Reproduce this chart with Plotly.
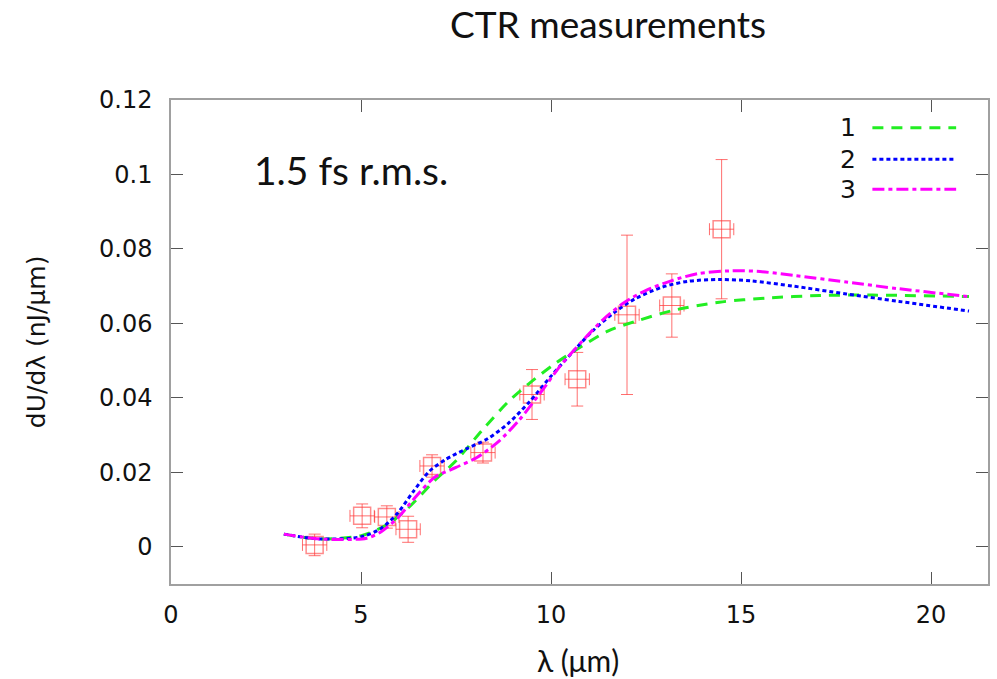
import plotly.graph_objects as go

# Measured points
x_meas = [3.78, 5.03, 5.68, 6.24, 6.87, 8.21, 9.50, 10.69, 12.00, 13.18, 14.49]
y_meas = [0.0005, 0.0083, 0.0080, 0.0047, 0.0217, 0.0253, 0.0409, 0.0450, 0.0623, 0.0648, 0.0853]
y_err = [0.0029, 0.0032, 0.0030, 0.0035, 0.0030, 0.0028, 0.0067, 0.0072, 0.0214, 0.0085, 0.0187]
x_err = [0.32, 0.32, 0.32, 0.32, 0.32, 0.32, 0.32, 0.32, 0.32, 0.32, 0.32]

# Curve 1 (green dashed)
x_c1 = [2.97, 3.91, 5.01, 5.68, 6.24, 6.93, 7.5, 8.18, 8.87, 9.43, 10.12, 10.82, 11.51, 12.21,
        13.18, 14.43, 15.68, 17.07, 18.46, 21.0]
y_c1 = [0.0034, 0.0021, 0.0030, 0.0059, 0.0104, 0.0177, 0.0231, 0.0312, 0.0389, 0.0439, 0.0493,
        0.0539, 0.0580, 0.0605, 0.0634, 0.0657, 0.0668, 0.0675, 0.0676, 0.0672]

# Curve 2 (blue dotted)
x_c2 = [2.97, 3.91, 5.01, 5.54, 5.96, 6.38, 6.8, 7.22, 7.77, 8.33, 8.87, 9.43, 9.99, 10.55, 11.1,
        11.66, 12.21, 12.91, 13.6, 14.43, 15.27, 16.38, 17.77, 19.16, 21.0]
y_c2 = [0.0034, 0.0021, 0.0027, 0.0050, 0.0090, 0.0149, 0.0203, 0.0234, 0.0263, 0.0290, 0.0331,
        0.0389, 0.0457, 0.0521, 0.0580, 0.0629, 0.0666, 0.0697, 0.0713, 0.0718, 0.0714, 0.0700,
        0.0679, 0.0659, 0.0633]

# Curve 3 (magenta dash-dot)
x_c3 = [2.97, 3.91, 5.15, 5.54, 5.96, 6.38, 6.93, 7.5, 8.05, 8.6, 9.15, 9.71, 10.27, 10.82, 11.38,
        11.94, 12.49, 13.18, 13.88, 14.71, 15.41, 16.38, 17.77, 19.16, 21.0]
y_c3 = [0.0034, 0.0021, 0.0023, 0.0041, 0.0077, 0.0127, 0.0186, 0.0213, 0.0240, 0.0281, 0.0339,
        0.0412, 0.0489, 0.0552, 0.0611, 0.0657, 0.0688, 0.0715, 0.0734, 0.0741, 0.0740, 0.0729,
        0.0711, 0.0693, 0.0672]

series_names = ["1", "2", "3"]
series_colors = ["#22ee22", "#0000ff", "#ff00ff"]
series_dash = ["11px,8px", "4px,3px", "12px,4px,4px,4px"]

y_tickvals = [0, 0.02, 0.04, 0.06, 0.08, 0.1, 0.12]
y_ticktext = ["0", "0.02", "0.04", "0.06", "0.08", "0.1", "0.12"]
x_tickvals = [0, 5, 10, 15, 20]
x_ticktext = ["0", "5", "10", "15", "20"]

fig = go.Figure()

fig.add_trace(go.Scatter(
    x=x_meas, y=y_meas, mode="markers",
    marker=dict(symbol="square-open", size=17, color="rgba(255,60,60,0.6)",
                line=dict(width=1.5, color="rgba(255,60,60,0.6)")),
    error_y=dict(type="data", array=y_err, color="rgba(255,50,50,0.7)", thickness=1, width=6),
    error_x=dict(type="data", array=x_err, color="rgba(255,50,50,0.7)", thickness=1, width=6),
    showlegend=False,
))

for xs, ys, col, dash in [(x_c1, y_c1, series_colors[0], series_dash[0]),
                          (x_c2, y_c2, series_colors[1], series_dash[1]),
                          (x_c3, y_c3, series_colors[2], series_dash[2])]:
    fig.add_trace(go.Scatter(
        x=xs, y=ys, mode="lines", line=dict(color=col, width=3, dash=dash, shape="spline",
                                            smoothing=0.8),
        showlegend=False,
    ))

# Manual gnuplot-style legend (label left of sample)
leg_y = [0.9428, 0.8776, 0.8157]
for name, col, dash, yy in zip(series_names, series_colors, series_dash, leg_y):
    fig.add_annotation(x=0.829, y=yy, xref="paper", yref="paper", text=name, showarrow=False,
                       font=dict(family="DejaVu Sans", size=25, color="#111"),
                       xanchor="center", yanchor="middle")
    fig.add_shape(type="line", xref="paper", yref="paper", x0=0.8585, x1=0.961, y0=yy, y1=yy,
                  line=dict(color=col, width=3, dash=dash))

fig.add_annotation(x=0.0993, y=0.8555, xref="paper", yref="paper", text="1.5 fs r.m.s.",
                   showarrow=False, font=dict(family="Lato", size=39, color="#111"),
                   xanchor="left", yanchor="middle")

fig.add_annotation(x=-0.165, y=0.5, xref="paper", yref="paper", text="dU/dλ (nJ/μm)",
                   showarrow=False, textangle=-90,
                   font=dict(family="DejaVu Sans", size=25, color="#111"),
                   xanchor="center", yanchor="middle")

fig.add_annotation(x=0.4984, y=-0.158, xref="paper", yref="paper", text="λ (μm)",
                   showarrow=False, font=dict(family="Lato", size=30, color="#111"),
                   xanchor="center", yanchor="middle")

axis_common = dict(showline=True, linecolor="#a0a0a0", linewidth=1.5, mirror="ticks",
                   ticks="inside", ticklen=12, tickwidth=1, tickcolor="#555",
                   showgrid=False, zeroline=False,
                   tickfont=dict(family="DejaVu Sans", size=24, color="#111"))

fig.update_xaxes(range=[0, 21.5], tickvals=x_tickvals, ticktext=x_ticktext,
                 ticklabelstandoff=8, **axis_common)
fig.update_yaxes(range=[-0.01, 0.12], tickvals=y_tickvals, ticktext=y_ticktext,
                 ticklabelstandoff=12, **axis_common)

fig.update_layout(
    width=997, height=679,
    margin=dict(l=170.6, r=7, t=100, b=94.5),
    paper_bgcolor="white", plot_bgcolor="white",
    title=dict(text="CTR measurements", x=0.535, xref="paper", y=1 - 25 / 679, yref="container",
               xanchor="center", yanchor="middle",
               font=dict(family="Lato", size=37, color="#111")),
)

fig.write_html("out.html")
